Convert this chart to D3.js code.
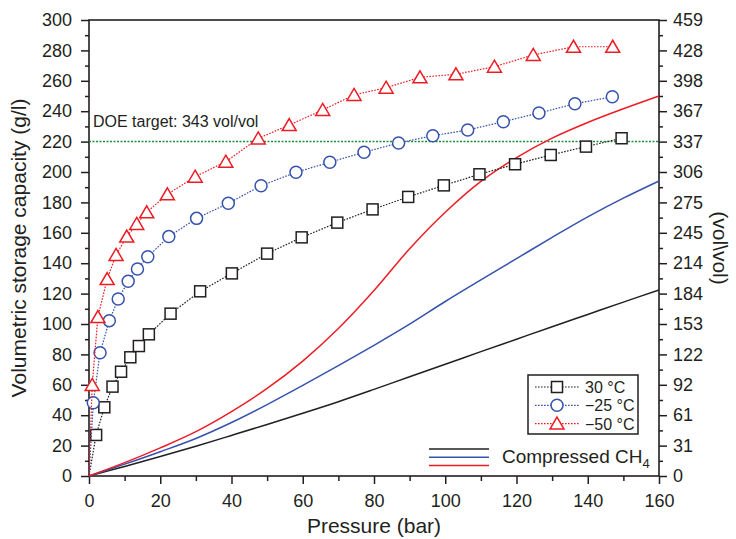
<!DOCTYPE html>
<meta charset="utf-8">
<html>
    <head>
        <style type="text/css">
            body { margin:0; background:#fff; }
            svg { display:block; }
            text { font-family: "Liberation Sans", Arial, sans-serif; fill:#231f20; }
            .axis path { display:none; }
            .axis line { stroke:#231f20; stroke-width:1.5; }
        </style>
        <script src="https://d3js.org/d3.v7.min.js"></script>
    </head>
    <body>
        <svg width="736" height="539"></svg>
        <script type="text/javascript">
            // measured points, 30 / -25 / -50 C
            var pressure30 = [0, 2.0, 4.3, 6.6, 9.0, 11.6, 14.0, 16.8, 22.9, 31.2, 40.1, 50.0, 59.7, 69.7, 79.6, 89.6, 99.6, 109.6, 119.6, 129.6, 139.5, 149.5];
            var capacity30 = [0, 27, 45.2, 58.8, 68.6, 78.1, 85.5, 93.2, 106.8, 121.5, 133.3, 146.3, 157.0, 166.7, 175.4, 183.6, 191.2, 198.5, 205.1, 211.2, 216.7, 222.2];
            var pressureM25 = [0, 1.2, 3.1, 5.7, 8.2, 11.0, 13.6, 16.5, 22.4, 30.2, 39.1, 48.3, 58.1, 67.6, 77.2, 86.9, 96.5, 106.3, 116.3, 126.3, 136.4, 146.9];
            var capacityM25 = [0, 48.2, 81.1, 102.2, 116.4, 128.1, 136.2, 144.3, 157.5, 169.5, 179.4, 191.0, 199.8, 206.4, 213.0, 219.1, 223.9, 227.6, 233.1, 238.8, 244.9, 249.5];
            var pressureM50 = [0, 0.9, 2.5, 5.1, 7.6, 10.6, 13.4, 16.2, 22.0, 29.8, 38.4, 47.5, 56.2, 65.6, 74.4, 83.4, 92.9, 103.0, 113.8, 124.7, 136.0, 147.0];
            var capacityM50 = [0, 59.9, 104.6, 129.6, 145.4, 157.5, 165.8, 173.5, 185.3, 196.9, 206.8, 222.1, 230.9, 240.8, 250.7, 255.5, 262.3, 264.3, 269.3, 277.0, 282.4, 282.4];

            // compressed CH4 curves
            var chPressure = [0, 10, 20, 30, 40, 50, 60, 70, 80, 90, 100, 110, 120, 130, 140, 150, 160];
            var ch30 = [0, 6.3, 12.8, 19.6, 26.7, 33.9, 41.3, 48.9, 57, 65.3, 73.5, 81.8, 90, 98.2, 106.3, 114.4, 122.4];
            var chM25 = [0, 7.8, 16, 24.7, 35.2, 47, 59.6, 72.6, 86, 99.9, 114.8, 129, 143, 157, 170.5, 182.8, 194.1];
            var chM50 = [0, 8.8, 18.5, 29.2, 42.4, 57.6, 75.6, 97, 122, 149.5, 173.5, 193.8, 209.5, 222.3, 232.6, 241.6, 250];

            var doeTarget = 220;
            var seriesLabels = ["30 \u00B0C", "\u221225 \u00B0C", "\u221250 \u00B0C"];
            var colors = ["#231f20", "#3552ad", "#ed1c24"];
            var rightTickLabels = ["0", "31", "61", "92", "122", "153", "184", "214", "245", "275", "306", "337", "367", "398", "428", "459"];

            var margin = {top: 20, right: 77, bottom: 63, left: 89};
            var width = 736, height = 539;

            var x = d3.scaleLinear().domain([0, 160]).range([margin.left, width - margin.right]);
            var y = d3.scaleLinear().domain([0, 300]).range([height - margin.bottom, margin.top]);

            var svg = d3.select("svg");

            // axes
            var majorY = d3.range(0, 301, 20);
            var minorY = d3.range(10, 300, 20);
            var majorX = d3.range(0, 161, 20);
            var minorX = d3.range(10, 160, 20);

            svg.append("g").attr("class", "axis")
                .attr("transform", "translate(" + [margin.left, 0] + ")")
                .call(d3.axisLeft(y).tickValues(majorY).tickSize(8).tickPadding(9))
                .selectAll("text").style("font-size", "18px");
            svg.append("g").attr("class", "axis")
                .attr("transform", "translate(" + [margin.left, 0] + ")")
                .call(d3.axisLeft(y).tickValues(minorY).tickSize(4).tickFormat(""));

            svg.append("g").attr("class", "axis")
                .attr("transform", "translate(" + [width - margin.right, 0] + ")")
                .call(d3.axisRight(y).tickValues(majorY).tickSize(8).tickPadding(6)
                    .tickFormat((d, i) => rightTickLabels[i]))
                .selectAll("text").style("font-size", "18px");
            svg.append("g").attr("class", "axis")
                .attr("transform", "translate(" + [width - margin.right, 0] + ")")
                .call(d3.axisRight(y).tickValues(minorY).tickSize(4).tickFormat(""));

            svg.append("g").attr("class", "axis")
                .attr("transform", "translate(" + [0, height - margin.bottom] + ")")
                .call(d3.axisBottom(x).tickValues(majorX).tickSize(8).tickPadding(10))
                .selectAll("text").style("font-size", "18px");
            svg.append("g").attr("class", "axis")
                .attr("transform", "translate(" + [0, height - margin.bottom] + ")")
                .call(d3.axisBottom(x).tickValues(minorX).tickSize(5).tickFormat(""));

            // frame
            svg.append("rect")
                .attr("x", x(0)).attr("y", y(300))
                .attr("width", x(160) - x(0)).attr("height", y(0) - y(300))
                .attr("fill", "none").attr("stroke", "#231f20").attr("stroke-width", 1.6);

            // axis titles
            svg.append("text")
                .attr("transform", "translate(26," + y(150) + ") rotate(-90)")
                .style("text-anchor", "middle").style("font-size", "21px")
                .text("Volumetric storage capacity (g/l)");
            svg.append("text")
                .attr("transform", "translate(713," + y(150) + ") rotate(90)")
                .style("text-anchor", "middle").style("font-size", "21px")
                .text("(vol\\vol)");
            svg.append("text")
                .attr("x", x(80)).attr("y", 533)
                .style("text-anchor", "middle").style("font-size", "21px")
                .text("Pressure (bar)");

            // DOE target
            svg.append("line")
                .attr("x1", x(0)).attr("x2", x(160))
                .attr("y1", y(doeTarget)).attr("y2", y(doeTarget))
                .attr("stroke", "#208a3c").attr("stroke-width", 1.5)
                .attr("stroke-dasharray", "2,1.5");
            svg.append("text")
                .attr("x", x(0) + 4).attr("y", 127)
                .style("font-size", "16px")
                .text("DOE target: 343 vol/vol");

            // compressed CH4 curves
            var curve = d3.line().x(d => x(d[0])).y(d => y(d[1])).curve(d3.curveCatmullRom.alpha(0.5));
            [ch30, chM25, chM50].forEach((vals, i) => {
                svg.append("path")
                    .datum(chPressure.map((p, j) => [p, vals[j]]))
                    .attr("d", curve)
                    .attr("fill", "none").attr("stroke", colors[i]).attr("stroke-width", 1.5);
            });

            // measured series
            var straight = d3.line().x(d => x(d[0])).y(d => y(d[1]));
            var measured = [[pressure30, capacity30], [pressureM25, capacityM25], [pressureM50, capacityM50]];
            var tri = "M0,-6.5L7,5.5L-7,5.5Z";

            function marker(g, i, cx, cy) {
                if (i === 0) {
                    g.append("rect").attr("x", cx - 5.5).attr("y", cy - 5.5)
                        .attr("width", 11).attr("height", 11);
                } else if (i === 1) {
                    g.append("circle").attr("cx", cx).attr("cy", cy).attr("r", 6);
                } else {
                    g.append("path").attr("transform", "translate(" + [cx, cy] + ")").attr("d", tri);
                }
            }

            measured.forEach((s, i) => {
                var pts = s[0].map((p, j) => [p, s[1][j]]);
                svg.append("path")
                    .datum(pts)
                    .attr("d", straight)
                    .attr("fill", "none").attr("stroke", colors[i]).attr("stroke-width", 1.2)
                    .attr("stroke-dasharray", "1.6,1.4");
                var g = svg.append("g")
                    .attr("fill", "#fff").attr("stroke", colors[i]).attr("stroke-width", 1.5);
                pts.filter(d => d[0] > 0).forEach(d => marker(g, i, x(d[0]), y(d[1])));
            });

            // legend for measured series
            var lg = svg.append("g");
            lg.append("rect").attr("x", 528).attr("y", 375).attr("width", 110).attr("height", 59)
                .attr("fill", "#fff").attr("stroke", "#231f20").attr("stroke-width", 1.5);
            seriesLabels.forEach((lab, i) => {
                var ry = 387 + i * 18.3;
                lg.append("line").attr("x1", 535).attr("x2", 580).attr("y1", ry).attr("y2", ry)
                    .attr("stroke", colors[i]).attr("stroke-width", 1.2).attr("stroke-dasharray", "1.6,1.4");
                var mg = lg.append("g").attr("fill", "#fff").attr("stroke", colors[i]).attr("stroke-width", 1.5);
                marker(mg, i, 557, ry);
                lg.append("text").attr("x", 585).attr("y", ry + 6).style("font-size", "16px").text(lab);
            });

            // legend for compressed CH4
            colors.forEach((c, i) => {
                svg.append("line").attr("x1", 429).attr("x2", 489)
                    .attr("y1", 449 + i * 8.3).attr("y2", 449 + i * 8.3)
                    .attr("stroke", c).attr("stroke-width", 1.5);
            });
            var ct = svg.append("text").attr("x", 502).attr("y", 463).style("font-size", "19px");
            ct.append("tspan").text("Compressed CH");
            ct.append("tspan").attr("dy", 5).style("font-size", "13px").text("4");
        </script>
    </body>
</html>
